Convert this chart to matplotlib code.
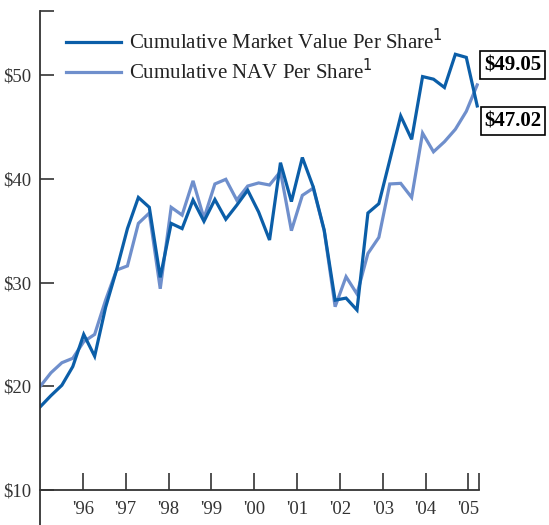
"""Cumulative market value vs. NAV per share, quarterly."""
import matplotlib
matplotlib.use("Agg")
import matplotlib.pyplot as plt
import numpy as np

# quarterly values
market = [18.0, 19.1, 20.1, 21.9, 25.0, 22.9, 27.6, 31.2, 35.2, 38.2,
          37.25, 30.5, 35.7, 35.2, 37.95, 35.9, 38.0, 36.1, 37.45, 38.9,
          36.8, 34.1, 41.55, 37.8, 42.05, 39.2, 35.05, 28.3, 28.5, 27.35,
          36.7, 37.6, 41.8, 46.05, 43.8, 49.85, 49.6, 48.8, 52.0, 51.7,
          47.02]
nav = [19.96, 21.3, 22.27, 22.7, 24.3, 25.0, 28.3, 31.2, 31.6, 35.7,
       36.7, 29.4, 37.25, 36.5, 39.8, 36.2, 39.5, 39.95, 37.95, 39.3,
       39.6, 39.4, 40.7, 35.0, 38.4, 39.1, 35.0, 27.67, 30.56, 28.9,
       32.8, 34.35, 39.5, 39.56, 38.2, 44.4, 42.6, 43.57, 44.77, 46.5,
       49.05]
years = ["'96", "'97", "'98", "'99", "'00", "'01", "'02", "'03", "'04", "'05"]
yticks = [10, 20, 30, 40, 50]

SERIF = ["Liberation Serif", "DejaVu Serif"]
DARK = "#0b5ea8"
LIGHT = "#6f8fcc"
AXC = "#333333"

fig = plt.figure(figsize=(5.49, 5.25), dpi=100)
ax = fig.add_axes([40 / 549, 0, (479.3 - 40) / 549, 1 - 10.7 / 525])

x = np.arange(len(market))
ax.plot(x, nav, color=LIGHT, lw=2.3, label="Cumulative NAV Per Share$^1$",
        solid_joinstyle="miter")
ax.plot(x, market, color=DARK, lw=2.3,
        label="Cumulative Market Value Per Share$^1$", solid_joinstyle="miter")

ax.set_xlim(0, 40.19)
ax.set_ylim(6.63, 56.2)

# spines
for s in ["top", "right"]:
    ax.spines[s].set_visible(False)
ax.spines["bottom"].set_position(("data", 10))
for s in ["left", "bottom"]:
    ax.spines[s].set_color(AXC)
    ax.spines[s].set_linewidth(1.3)

tick_pos = [(i + 1) * 3.92 for i in range(len(years))]
ax.set_xticks(tick_pos + [40.19])
ax.set_xticklabels(years + [""])
ax.set_yticks(yticks + [56.2])
ax.set_yticklabels(["$%d" % v for v in yticks] + [""])
ax.tick_params(axis="x", direction="in", length=12, width=1.2, color=AXC,
               pad=8, labelsize=13.5)
ax.tick_params(axis="y", direction="in", length=10, width=1.2, color=AXC,
               pad=6, labelsize=13.5)
for lab in ax.get_xticklabels() + ax.get_yticklabels():
    lab.set_family(SERIF)
    lab.set_color("#333333")

h, l = ax.get_legend_handles_labels()
leg = ax.legend(h[::-1], l[::-1], loc="upper left",
                bbox_to_anchor=(0.04, 0.98), frameon=False,
                prop={"family": SERIF, "size": 15}, handlelength=2.65,
                handletextpad=0.38, labelspacing=0.2, borderaxespad=0)
for t in leg.get_texts():
    t.set_color("#222222")

# end-value boxes
box = dict(boxstyle="square,pad=0.18", fc="white", ec="black", lw=1.2)
fig.text(512.5 / 549, 1 - 65 / 525, "$%.2f" % nav[-1], ha="center",
         va="center", family=SERIF, fontsize=15, fontweight="bold",
         bbox=box)
fig.text(513 / 549, 1 - 121 / 525, "$%.2f" % market[-1], ha="center",
         va="center", family=SERIF, fontsize=15, fontweight="bold",
         bbox=box)

fig.savefig("out.png", dpi=100)
